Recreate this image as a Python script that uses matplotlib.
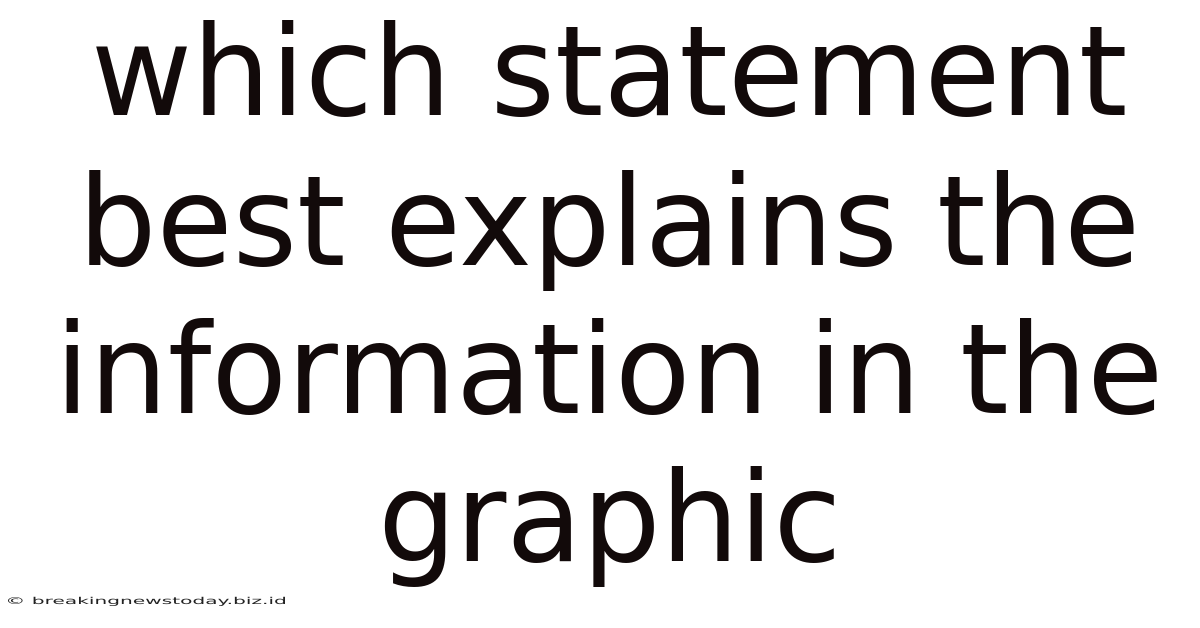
import matplotlib
matplotlib.use("Agg")
import matplotlib.pyplot as plt
from matplotlib.textpath import TextPath
from matplotlib.patches import PathPatch
from matplotlib.font_manager import FontProperties
from matplotlib.transforms import Affine2D

# texto do titulo, uma linha por entrada
linhas = ["which statement", "best explains the", "information in the", "graphic"]
baselines_px = [115, 265, 413, 561]
marca = "\u00a9 breakingnewstoday.biz.id"

W, H = 1200, 628
fig = plt.figure(figsize=(W / 100, H / 100), dpi=100)
fig.patch.set_facecolor("white")

ax = fig.add_axes([0, 0, 1, 1])
ax.set_xlim(0, W)
ax.set_ylim(0, H)
ax.axis("off")

for texto, y in zip(linhas, baselines_px):
    ax.text(609, H - y, texto, ha="center", va="baseline",
            fontsize=89, color="#120a0a", family="DejaVu Sans")

# marca d'agua esticada na horizontal, como na imagem original
tp = TextPath((0, 0), marca, size=9.5, prop=FontProperties(family="DejaVu Sans"))
ext = tp.get_extents()
sx = 277 / ext.width
tr = Affine2D().translate(-ext.x0, 0).scale(sx, 1.0).translate(8, H - 604)
ax.add_patch(PathPatch(tr.transform_path(tp), facecolor="#222222",
                       edgecolor="none", lw=0))

fig.savefig("out.png", dpi=100, facecolor="white")
